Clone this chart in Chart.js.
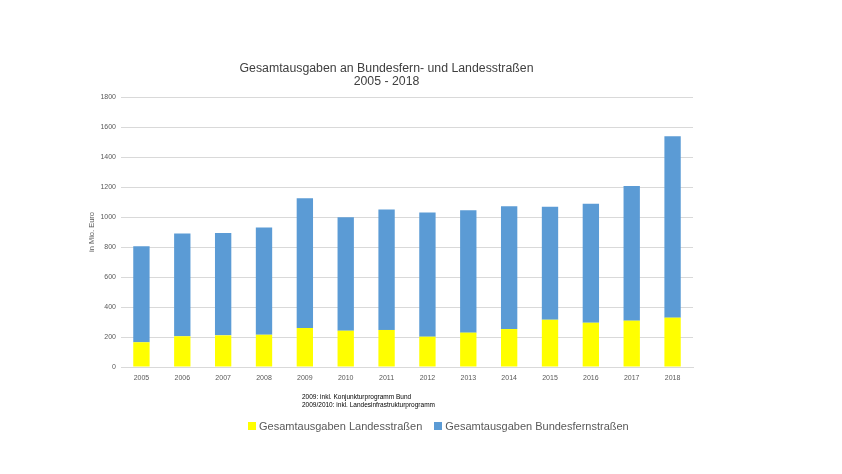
<!DOCTYPE html>
<html>
<head>
<meta charset="utf-8">
<script src="https://cdn.jsdelivr.net/npm/chart.js@4/dist/chart.umd.min.js"></script>
<style>
  html, body { margin: 0; padding: 0; background: #fff; }
  #wrap { position: relative; width: 842px; height: 474px; font-family: "Liberation Sans", Arial, sans-serif; }
  #chart { position: absolute; left: 0; top: 0; }
  .title { position: absolute; left: 80px; width: 613px; text-align: center; font-size: 12.3px; color: #404040; line-height: 12.5px; }
  .note { position: absolute; left: 302px; font-size: 6.5px; color: #000; white-space: nowrap; }
  #legend { position: absolute; left: 248px; top: 420px; font-size: 11px; color: #595959; white-space: nowrap; }
  #legend span.box { display: inline-block; width: 8px; height: 8px; margin-right: 3px; }
  #legend span.item { margin-right: 12px; }
</style>
</head>
<body>
<div id="wrap">
  <canvas id="chart" width="842" height="474"></canvas>
  <div class="title" style="top:62px">Gesamtausgaben an Bundesfern- und Landesstraßen</div>
  <div class="title" style="top:75px">2005 - 2018</div>
  <div class="note" style="top:393px">2009: inkl. Konjunkturprogramm Bund</div>
  <div class="note" style="top:401px">2009/2010: inkl. Landesinfrastrukturprogramm</div>
  <div id="legend"></div>
</div>
<script>
// Jahre und Ausgaben in Mio. Euro
const years = ["2005", "2006", "2007", "2008", "2009", "2010", "2011", "2012", "2013", "2014", "2015", "2016", "2017", "2018"];
const landesstrassen = [165, 205, 211, 215, 260, 242, 247, 202, 229, 253, 315, 295, 309, 329];
const bundesfernstrassen = [640, 685, 682, 715, 865, 756, 803, 828, 816, 819, 753, 793, 898, 1209];
const yTicks = [0, 200, 400, 600, 800, 1000, 1200, 1400, 1600, 1800];

const labelLandes = "Gesamtausgaben Landesstraßen";
const labelBund = "Gesamtausgaben Bundesfernstraßen";

const ctx = document.getElementById("chart").getContext("2d");
const chart = new Chart(ctx, {
  type: "bar",
  data: {
    labels: years,
    datasets: [
      { label: labelLandes, data: landesstrassen, backgroundColor: "#FFFF00", barPercentage: 0.8, categoryPercentage: 0.5 },
      { label: labelBund, data: bundesfernstrassen, backgroundColor: "#5B9BD5", barPercentage: 0.8, categoryPercentage: 0.5 }
    ]
  },
  options: {
    responsive: false,
    animation: false,
    layout: { padding: { left: 80, right: 149, top: 97, bottom: 87 } },
    plugins: {
      legend: { display: false },
      title: { display: false },
      tooltip: { enabled: false }
    },
    scales: {
      x: {
        stacked: true,
        grid: { display: false, drawTicks: false },
        border: { color: "#D9D9D9" },
        ticks: { font: { family: "Liberation Sans", size: 7 }, color: "#595959", padding: 7 },
        afterFit: (s) => { s.height = 20; }
      },
      y: {
        stacked: true,
        min: 0,
        max: 1800,
        afterBuildTicks: (s) => { s.ticks = yTicks.map(v => ({ value: v })); },
        grid: { color: "#D9D9D9", drawTicks: false },
        border: { display: false },
        ticks: {
          font: { family: "Liberation Sans", size: 7 },
          color: "#595959",
          padding: 5,
          callback: (v) => String(v)
        },
        title: { display: true, text: "in Mio. Euro", font: { family: "Liberation Sans", size: 7.5 }, color: "#595959", padding: { top: 7, bottom: 0 } },
        afterFit: (s) => { s.width = 41; }
      }
    }
  }
});

// Legende aus den Datensätzen
const legend = document.getElementById("legend");
chart.data.datasets.forEach(ds => {
  const item = document.createElement("span");
  item.className = "item";
  item.innerHTML = '<span class="box" style="background:' + ds.backgroundColor + '"></span>' + ds.label;
  legend.appendChild(item);
});
</script>
</body>
</html>
